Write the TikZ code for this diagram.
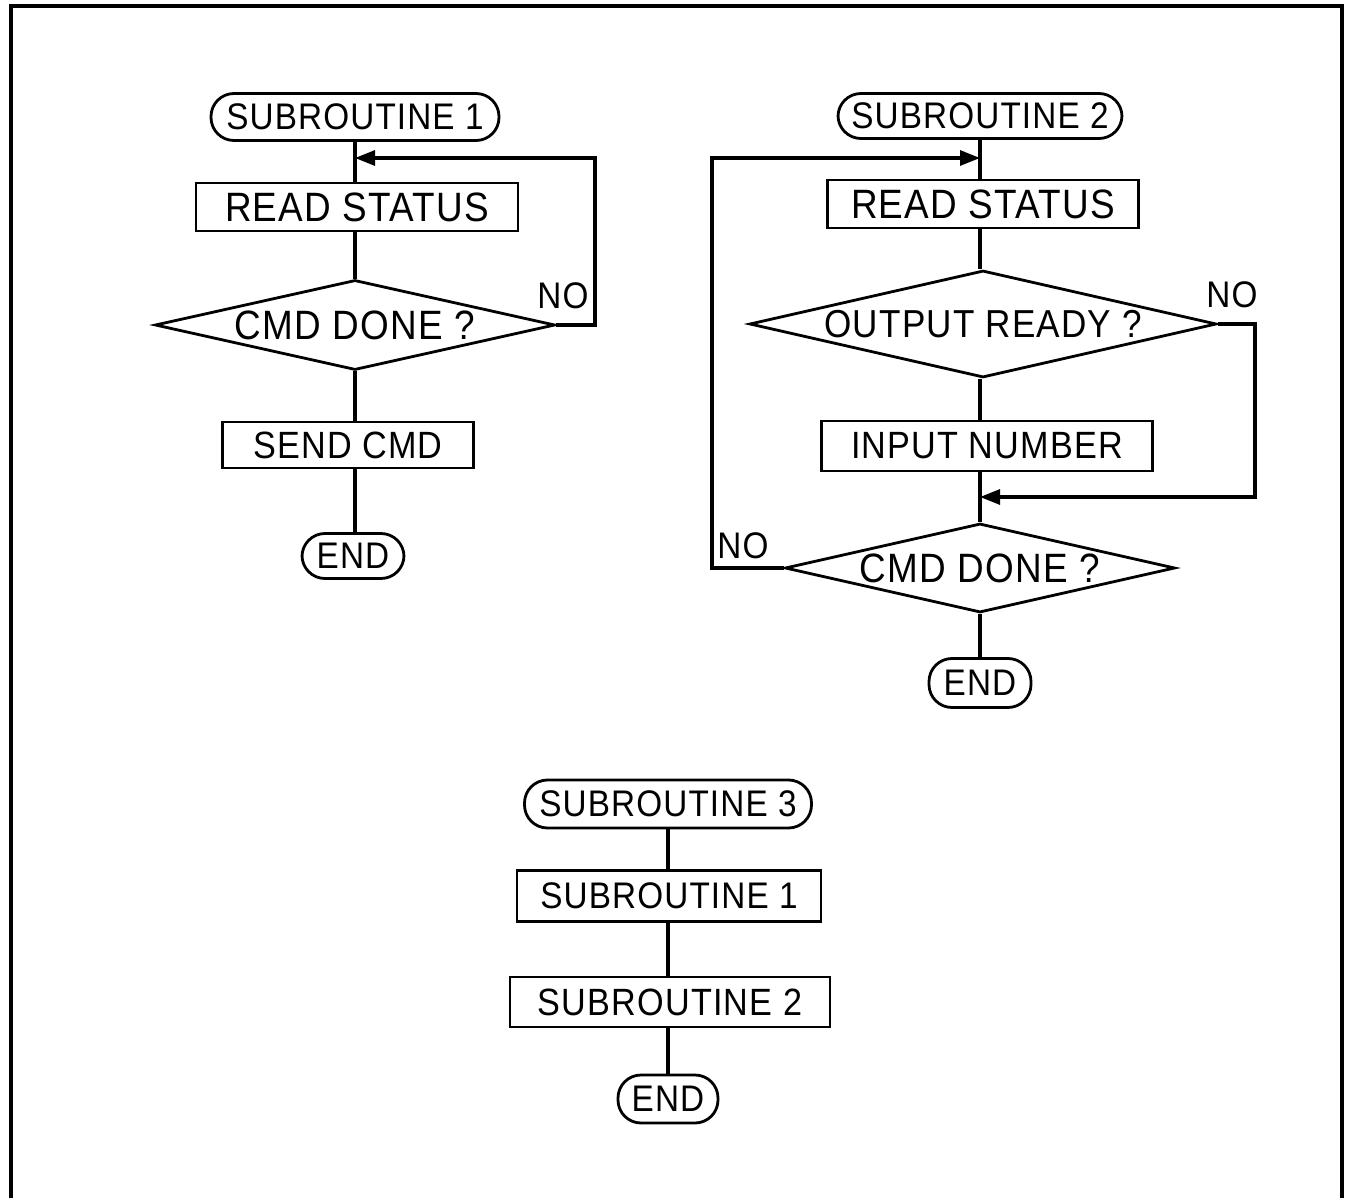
\documentclass[tikz,border=0pt]{standalone}
\usepackage{fontspec}
\setmainfont{Liberation Sans}[FakeStretch=0.9,LetterSpace=3]
\usetikzlibrary{shapes.geometric,arrows.meta}
\begin{document}
\begin{tikzpicture}[x=1pt,y=-1pt,
  every node/.style={font=\fontsize{41}{46}\selectfont, inner sep=0pt},
  line/.style={line width=3.1pt},
  arr/.style={line width=3.1pt,-{Triangle[length=20pt,width=15pt]}},
  term/.style={draw, line width=2.8pt, rectangle, rounded corners=23pt, minimum height=47pt, font=\fontsize{37}{42}\selectfont},
  procbox/.style={draw, line width=2.8pt, rectangle, minimum height=48pt},
  decision/.style={draw, line width=2.8pt, diamond, aspect=4.4},
  lbl/.style={font=\fontsize{37}{42}\selectfont}]
\useasboundingbox (0,0) rectangle (1347,1198);
\draw[line width=4pt] (11,1202) -- (11,6) -- (1342,6) -- (1342,1202);

% Subroutine 1
\node[term, minimum width=288pt] (t1) at (355,117) {SUBROUTINE 1};
\node[procbox, minimum width=322pt] (r1) at (357,207) {READ STATUS};
\node[decision, minimum width=400pt, minimum height=90pt] (d1) at (355,325) {CMD DONE ?};
\node[procbox, minimum width=251pt, minimum height=46pt, font=\fontsize{38}{43}\selectfont] (s1) at (348,445) {SEND CMD};
\node[term, minimum width=102pt, minimum height=45pt] (e1) at (353,556) {END};
\coordinate (j1) at (355,158);
\coordinate (c1) at (595,158);
\draw[line] (t1) -- (t1 |- r1.north);
\draw[line] (t1 |- r1.south) -- (d1);
\draw[line] (d1) -- (d1 |- s1.north);
\draw[line] (d1 |- s1.south) -- (d1 |- e1.north);
\draw[arr] (d1.east) -| (c1) -- (j1);
\node[lbl] (no1) at (563,296) {NO};

% Subroutine 2
\node[term, minimum width=284pt, minimum height=45pt] (t2) at (980,116) {SUBROUTINE 2};
\node[procbox, minimum width=311pt] (r2) at (983,204) {READ STATUS};
\node[decision, minimum width=467pt, minimum height=107pt, font=\fontsize{39}{44}\selectfont] (d2) at (983,324) {OUTPUT READY ?};
\node[procbox, minimum width=331pt, minimum height=50pt, font=\fontsize{38}{43}\selectfont] (n2) at (987,446) {INPUT NUMBER};
\node[decision, minimum width=390pt, minimum height=89pt] (d3) at (980,568) {CMD DONE ?};
\node[term, minimum width=102pt, minimum height=49pt] (e2) at (980,683) {END};
\coordinate (j2) at (980,158);
\coordinate (c2) at (712,158);
\coordinate (j3) at (980,497);
\coordinate (c3) at (1255,497);
\draw[line] (t2) -- (t2 |- r2.north);
\draw[line] (t2 |- r2.south) -- (t2 |- d2.north);
\draw[line] (t2 |- d2.south) -- (t2 |- n2.north);
\draw[line] (t2 |- n2.south) -- (d3);
\draw[line] (d3) -- (e2);
\draw[arr] (d2.east) -| (c3) -- (j3);
\draw[arr] (d3.west) -| (c2) -- (j2);
\node[lbl] (no2) at (1232,295) {NO};
\node[lbl] (no3) at (743,546) {NO};

% Subroutine 3
\node[term, minimum width=287pt, minimum height=48pt] (t3) at (668,804) {SUBROUTINE 3};
\node[procbox, minimum width=304pt, minimum height=51pt, font=\fontsize{37}{42}\selectfont] (a3) at (669,896) {SUBROUTINE 1};
\node[procbox, minimum width=320pt, minimum height=50pt, font=\fontsize{38}{43}\selectfont] (b3) at (670,1002) {SUBROUTINE 2};
\node[term, minimum width=100pt, minimum height=48pt] (e3) at (668,1099) {END};
\draw[line] (t3) -- (t3 |- a3.north);
\draw[line] (t3 |- a3.south) -- (t3 |- b3.north);
\draw[line] (t3 |- b3.south) -- (e3);
\end{tikzpicture}
\end{document}
